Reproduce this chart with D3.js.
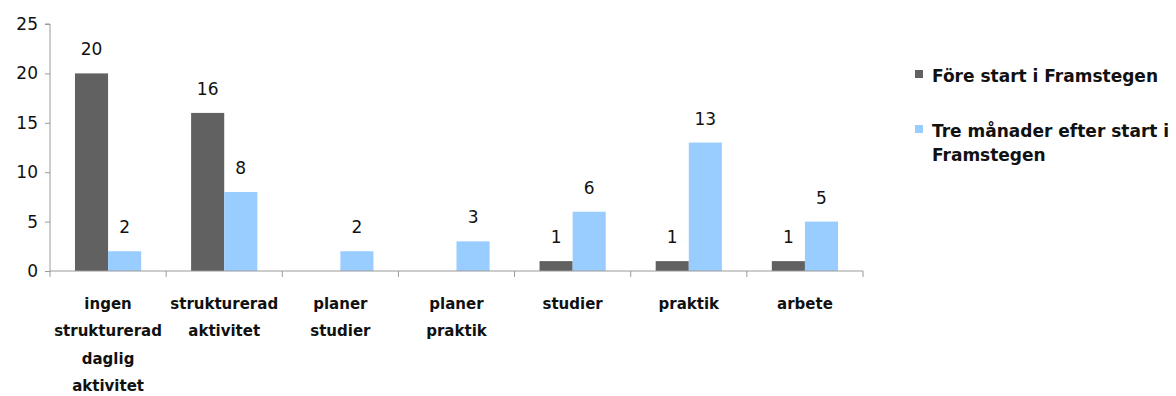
<!DOCTYPE html>
<html>
<head>
<meta charset="utf-8">
<script src="https://cdn.jsdelivr.net/npm/d3@7"></script>
<style>
  html, body { margin: 0; padding: 0; background: #fff; overflow: hidden; }
  svg { display: block; font-family: "DejaVu Sans", sans-serif; }
</style>
</head>
<body>
<svg id="chart" width="1176" height="396"></svg>
<script>
// Activity categories (each line of a label is a separate entry)
const categories = [
  ["ingen", "strukturerad", "daglig", "aktivitet"],
  ["strukturerad", "aktivitet"],
  ["planer", "studier"],
  ["planer", "praktik"],
  ["studier"],
  ["praktik"],
  ["arbete"]
];
const seriesNames = ["Före start i Framstegen", "Tre månader efter start i Framstegen"];
const beforeValues = [20, 16, null, null, 1, 1, 1];
const afterValues = [2, 8, 2, 3, 6, 13, 5];
const yTicks = [0, 5, 10, 15, 20, 25];
const colors = ["#616161", "#99ccff"];

const svg = d3.select("#chart");
const margin = { left: 50, right: 313, top: 24, bottom: 125 };
const width = 1176, height = 396;

const x0 = d3.scaleBand()
  .domain(d3.range(categories.length))
  .range([margin.left, width - margin.right])
  .paddingInner(0.43)
  .paddingOuter(0.215);
const step = x0.step();
const x1 = d3.scaleBand().domain([0, 1]).range([0, x0.bandwidth()]);

const y = d3.scaleLinear().domain([0, 25]).range([height - margin.bottom, margin.top]);

const axisColor = "#9a9a9a";

// Bars with value labels
const series = [beforeValues, afterValues];
series.forEach((vals, si) => {
  const g = svg.append("g");
  vals.forEach((v, i) => {
    if (v == null) return;
    g.append("rect")
      .attr("x", x0(i) + x1(si))
      .attr("y", y(v))
      .attr("width", x1.bandwidth())
      .attr("height", y(0) - y(v))
      .attr("fill", colors[si]);
    g.append("text")
      .attr("x", x0(i) + x1(si) + x1.bandwidth() / 2)
      .attr("y", y(v) - 18)
      .attr("text-anchor", "middle")
      .attr("font-size", 17)
      .attr("fill", "#111")
      .text(v);
  });
});

// Y axis
const yAxis = d3.axisLeft(y).tickValues(yTicks).tickSize(5).tickPadding(7);
const yg = svg.append("g")
  .attr("transform", `translate(${margin.left},0)`)
  .call(yAxis);
yg.select(".domain").attr("stroke", axisColor).attr("d", `M-5,${y(25)}H0V${y(0)}`);
yg.selectAll(".tick line").attr("stroke", axisColor);
yg.selectAll(".tick text").attr("font-size", 17).attr("fill", "#111")
  .attr("font-family", "DejaVu Sans, sans-serif");

// X axis with boundary ticks between categories
const xStart = margin.left, xEnd = width - margin.right;
const xg = svg.append("g");
xg.append("line")
  .attr("x1", xStart).attr("x2", xEnd)
  .attr("y1", y(0)).attr("y2", y(0))
  .attr("stroke", axisColor);
d3.range(categories.length + 1).forEach(k => {
  const xx = xStart + k * step;
  xg.append("line")
    .attr("x1", xx).attr("x2", xx)
    .attr("y1", y(0)).attr("y2", y(0) + 6)
    .attr("stroke", axisColor);
});

// Category labels
categories.forEach((lines, i) => {
  const cx = xStart + (i + 0.5) * step;
  const t = svg.append("text")
    .attr("text-anchor", "middle")
    .attr("font-size", 15)
    .attr("font-weight", "bold")
    .attr("fill", "#111");
  lines.forEach((ln, j) => {
    t.append("tspan").attr("x", cx).attr("y", 309 + j * 27.3).text(ln);
  });
});

// Legend
const legend = svg.append("g");
const legendItems = [
  { lines: [seriesNames[0]], y: 74, color: colors[0] },
  { lines: ["Tre månader efter start i", "Framstegen"], y: 129, color: colors[1] }
];
legendItems.forEach(it => {
  legend.append("rect")
    .attr("x", 915).attr("y", it.y - 4)
    .attr("width", 8).attr("height", 8)
    .attr("fill", it.color);
  const t = legend.append("text")
    .attr("font-size", 17)
    .attr("font-weight", "bold")
    .attr("fill", "#111");
  it.lines.forEach((ln, j) => {
    t.append("tspan").attr("x", 932).attr("y", it.y + 8 + j * 24).text(ln);
  });
});
</script>
</body>
</html>
